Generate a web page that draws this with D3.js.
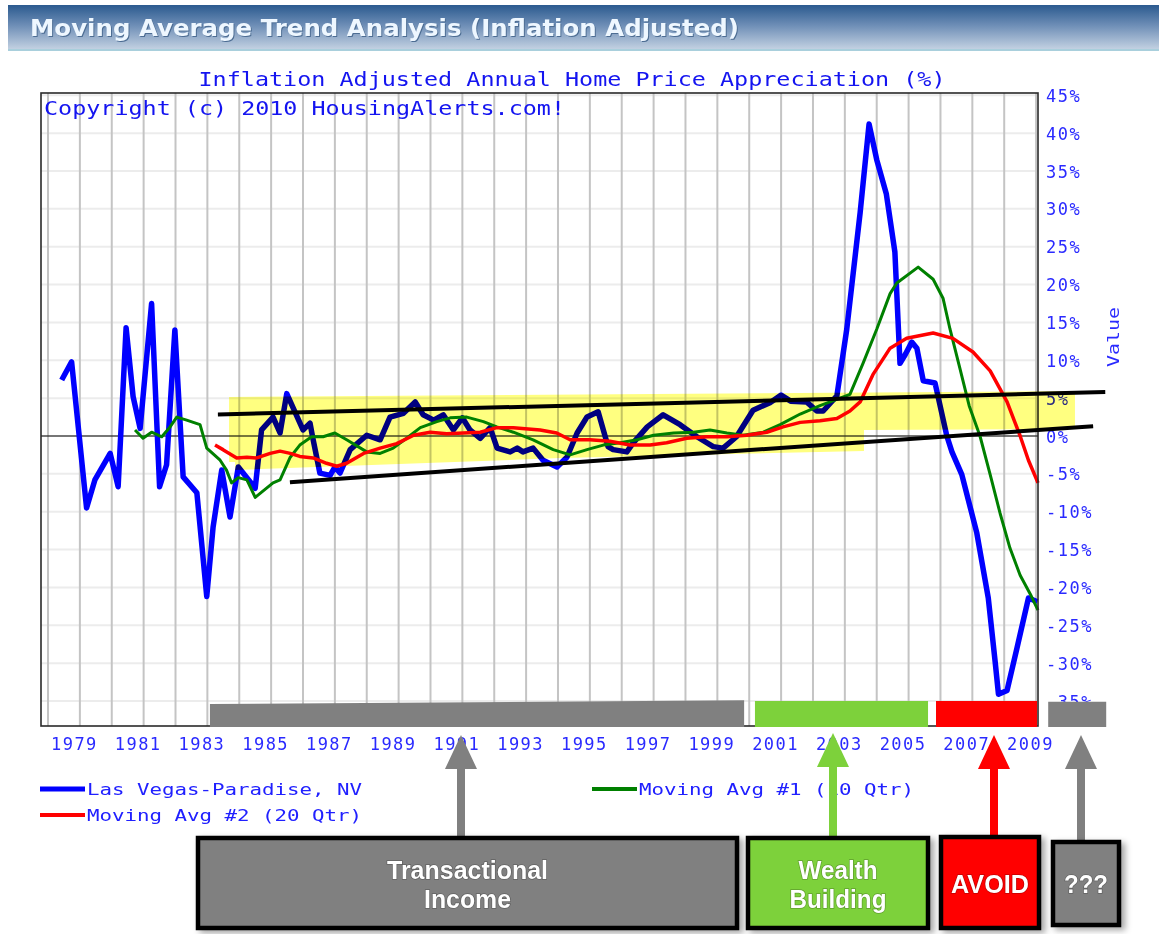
<!DOCTYPE html>
<html lang="en">
<head>
<meta charset="utf-8">
<title>Moving Average Trend Analysis</title>
<script src="https://cdn.jsdelivr.net/npm/d3@7"></script>
<style>
  body { margin: 0; background: #fff; }
  .mono { font-family: "DejaVu Sans Mono", monospace; }
  .box-text { font-family: "Liberation Sans Narrow", "Arial Narrow", "Liberation Sans", Arial, sans-serif; font-weight: bold; fill: #fff; }
</style>
</head>
<body>
<script>
// ---- data (decimal year, % appreciation) ----
var lvYears = [1978.43,1978.74,1979.21,1979.47,1979.95,1980.2,1980.45,1980.67,1980.89,1981.25,1981.5,1981.72,1981.98,1982.24,1982.67,1982.98,1983.18,1983.45,1983.71,1983.97,1984.5,1984.7,1985.06,1985.28,1985.49,1986.0,1986.22,1986.3,1986.53,1986.85,1987.0,1987.16,1987.48,1988.0,1988.42,1988.73,1989.15,1989.52,1989.77,1990.1,1990.4,1990.72,1991.0,1991.24,1991.56,1991.87,1992.09,1992.5,1992.72,1992.9,1993.22,1993.53,1993.97,1994.28,1994.6,1994.91,1995.26,1995.57,1995.73,1996.16,1996.36,1996.8,1997.3,1997.83,1998.36,1998.87,1999.18,1999.6,2000.12,2000.65,2001.0,2001.3,2001.8,2002.12,2002.32,2002.75,2003.06,2003.48,2003.76,2004.0,2004.3,2004.57,2004.73,2004.9,2005.1,2005.26,2005.46,2005.83,2006.2,2006.36,2006.67,2007.14,2007.5,2007.72,2007.82,2008.09,2008.4,2008.76,2009.04];
var lvValues = [7.4,9.8,-9.5,-5.8,-2.3,-6.7,14.3,5.2,1.0,17.5,-6.7,-3.8,14.0,-5.4,-7.5,-21.2,-12,-4.5,-10.7,-4.1,-6.9,0.8,2.5,0.4,5.6,0.8,1.7,-0.1,-4.9,-5.2,-4.1,-4.9,-1.8,0.1,-0.5,2.5,3.0,4.5,2.8,2.1,2.8,0.8,2.4,0.8,-0.3,1.1,-1.6,-2.1,-1.6,-2.1,-1.6,-3.2,-4.1,-2.8,0.4,2.5,3.2,-1.4,-1.8,-2.1,-0.9,1.2,2.8,1.5,-0.1,-1.4,-1.6,-0.1,3.4,4.4,5.4,4.6,4.5,3.3,3.3,5.3,14.1,29.5,41.2,36.5,32,24.3,9.6,10.8,12.4,11.6,7.3,7.0,0,-2.1,-5.1,-12.8,-21.4,-30,-34.1,-33.6,-28,-21.4,-21.9];

var ma10Years = [1980.73,1980.98,1981.25,1981.57,1981.83,1982.04,1982.35,1982.77,1982.98,1983.4,1983.6,1983.76,1983.97,1984.24,1984.5,1985.06,1985.28,1985.6,1985.9,1986.27,1986.63,1987.0,1987.37,1988.0,1988.42,1988.83,1989.25,1989.68,1990.2,1990.62,1991.14,1991.66,1992.08,1992.6,1993.22,1993.85,1994.38,1994.91,1995.42,1995.95,1996.48,1997.0,1997.63,1998.25,1998.77,1999.3,1999.81,2000.44,2000.97,2001.6,2002.22,2002.85,2003.16,2003.57,2004.0,2004.42,2004.63,2005.3,2005.77,2006.08,2006.3,2006.6,2006.9,2007.24,2007.56,2007.87,2008.18,2008.5,2008.82,2009.06];
var ma10Values = [0.8,-0.3,0.5,-0.1,1.2,2.5,2.1,1.5,-1.6,-3.2,-4.5,-6.2,-5.5,-5.8,-8.1,-6.2,-5.8,-2.8,-1.2,-0.1,-0.1,0.4,-0.5,-2.1,-2.3,-1.6,-0.3,1.1,1.9,2.4,2.5,1.9,1.2,0.5,-0.5,-1.8,-2.5,-1.8,-1.2,-0.9,-0.5,0.1,0.4,0.5,0.8,0.4,0.1,0.5,1.5,2.9,4.0,5.0,5.5,9.6,14.1,18.8,20.2,22.3,20.7,18.2,14.1,9.1,4.0,0,-5.1,-10.2,-14.8,-18.4,-20.9,-23];

var ma20Years = [1983.24,1983.49,1983.92,1984.24,1984.55,1984.97,1985.28,1985.6,1985.9,1986.32,1986.74,1987.06,1987.37,1987.9,1988.42,1988.94,1989.47,1989.99,1990.51,1991.03,1991.56,1992.08,1992.6,1993.44,1993.96,1994.38,1995.0,1995.63,1996.26,1996.89,1997.41,1998.04,1998.67,1999.3,1999.92,2000.55,2001.06,2001.6,2002.22,2002.75,2003.16,2003.48,2003.88,2004.42,2004.94,2005.77,2006.39,2007.02,2007.56,2008.09,2008.5,2008.76,2009.06];
var ma20Values = [-1.2,-1.8,-2.9,-2.8,-2.9,-2.3,-2.0,-2.3,-2.7,-2.9,-3.6,-4.0,-3.6,-2.3,-1.6,-1.0,0.1,0.5,0.3,0.4,0.5,1.1,1.1,0.8,0.4,-0.5,-0.5,-0.7,-1.2,-1.2,-0.9,-0.3,-0.1,-0.1,0.1,0.5,1.2,1.8,2.0,2.3,3.3,4.5,8.1,11.6,12.9,13.6,12.9,11.1,8.6,4.5,0,-3.2,-6.2];

var gridYears = [1978,1979,1980,1981,1982,1983,1984,1985,1986,1987,1988,1989,1990,1991,1992,1993,1994,1995,1996,1997,1998,1999,2000,2001,2002,2003,2004,2005,2006,2007,2008,2009];
var labelYears = [1979,1981,1983,1985,1987,1989,1991,1993,1995,1997,1999,2001,2003,2005,2007,2009];
var yTicks = [-35,-30,-25,-20,-15,-10,-5,0,5,10,15,20,25,30,35,40,45];

// hand drawn trend channel (year, value)
var upperTrend = [[1983.33, 2.84], [2011.17, 5.8]];
var lowerTrend = [[1985.59, -6.1], [2010.79, 1.3]];
var highlight = [[1983.68,5.15],[2010.22,5.94],[2010.22,0.92],[2003.6,0.79],[2003.6,-1.98],[1994.07,-2.91],[1983.87,-4.49],[1983.87,-3.43],[1983.68,-3.43]];

// phase bars under the chart (start year, end year, top value at start and end)
var phases = [
  {from: 1983.08, to: 1999.84, top0: -35.4, top1: -34.9, color: "#808080"},
  {from: 2000.18, to: 2005.61, top0: -35.0, top1: -35.0, color: "#7dd13b"},
  {from: 2005.86, to: 2009.03, top0: -35.0, top1: -35.0, color: "#ff0000"},
  {from: 2009.38, to: 2011.2, top0: -35.1, top1: -35.1, color: "#808080"}
];

var W = 1159, H = 934;
var svg = d3.select("body").append("svg")
  .attr("width", W).attr("height", H)
  .style("background", "#fff");

var defs = svg.append("defs");
var grad = defs.append("linearGradient").attr("id", "hdr").attr("x1", 0).attr("y1", 0).attr("x2", 0).attr("y2", 1);
grad.append("stop").attr("offset", "0%").attr("stop-color", "#2b5a8f");
grad.append("stop").attr("offset", "45%").attr("stop-color", "#6f8fb7");
grad.append("stop").attr("offset", "100%").attr("stop-color", "#c9d6e5");
var shadow = defs.append("filter").attr("id", "shadow").attr("x", "-10%").attr("y", "-10%").attr("width", "130%").attr("height", "130%");
shadow.append("feDropShadow").attr("dx", 4).attr("dy", 3).attr("stdDeviation", 3).attr("flood-color", "#000").attr("flood-opacity", 0.35);

// header bar
svg.append("rect").attr("x", 8).attr("y", 5).attr("width", W - 8).attr("height", 46).attr("fill", "url(#hdr)");
svg.append("rect").attr("x", 8).attr("y", 49).attr("width", W - 8).attr("height", 2).attr("fill", "#a9cfdc");
svg.append("text").attr("x", 31).attr("y", 37)
  .attr("font-family", "DejaVu Sans, Verdana, sans-serif").attr("font-weight", "bold").attr("font-size", 23)
  .attr("textLength", 709).attr("lengthAdjust", "spacingAndGlyphs")
  .attr("fill", "#4d6d93").text("Moving Average Trend Analysis (Inflation Adjusted)");
svg.append("text").attr("x", 30).attr("y", 36)
  .attr("font-family", "DejaVu Sans, Verdana, sans-serif").attr("font-weight", "bold").attr("font-size", 23)
  .attr("textLength", 709).attr("lengthAdjust", "spacingAndGlyphs")
  .attr("fill", "#eef7ff").text("Moving Average Trend Analysis (Inflation Adjusted)");

var xScale = d3.scaleLinear().domain([1977.78, 2009.06]).range([41, 1038]);
var yScale = d3.scaleLinear().domain([-38.3, 45.3]).range([726, 93]);

// gridlines
svg.append("g").selectAll("line").data(yTicks).enter().append("line")
  .attr("x1", 41).attr("x2", 1038)
  .attr("y1", function(d){ return yScale(d); }).attr("y2", function(d){ return yScale(d); })
  .attr("stroke", "#ececec").attr("stroke-width", 2);
svg.append("g").selectAll("line").data(gridYears).enter().append("line")
  .attr("x1", function(d){ return xScale(d); }).attr("x2", function(d){ return xScale(d); })
  .attr("y1", 93).attr("y2", 726)
  .attr("stroke", "#c4c4c4").attr("stroke-width", 2);
svg.append("line").attr("x1", 41).attr("x2", 1038).attr("y1", yScale(0)).attr("y2", yScale(0))
  .attr("stroke", "#000").attr("stroke-width", 1.2);

// series
var line = d3.line().x(function(d){ return xScale(d[0]); }).y(function(d){ return yScale(d[1]); });
function pairs(xs, ys){ return xs.map(function(x, i){ return [x, ys[i]]; }); }
svg.append("path").datum(pairs(lvYears, lvValues)).attr("d", line)
  .attr("fill", "none").attr("stroke", "#0000ff").attr("stroke-width", 5.5).attr("stroke-linejoin", "round");
svg.append("path").datum(pairs(ma10Years, ma10Values)).attr("d", line)
  .attr("fill", "none").attr("stroke", "#008000").attr("stroke-width", 3).attr("stroke-linejoin", "round");
svg.append("path").datum(pairs(ma20Years, ma20Values)).attr("d", line)
  .attr("fill", "none").attr("stroke", "#ff0000").attr("stroke-width", 3.5).attr("stroke-linejoin", "round");

// border
svg.append("rect").attr("x", 41).attr("y", 93).attr("width", 997).attr("height", 633)
  .attr("fill", "none").attr("stroke", "#2a2a2a").attr("stroke-width", 1.6);

// titles
svg.append("text").attr("class", "mono").attr("x", 572).attr("y", 86).attr("text-anchor", "middle")
  .attr("font-size", 19).attr("fill", "#1414f0")
  .attr("textLength", 747).attr("lengthAdjust", "spacingAndGlyphs")
  .text("Inflation Adjusted Annual Home Price Appreciation (%)");
svg.append("text").attr("class", "mono").attr("x", 44).attr("y", 115)
  .attr("font-size", 19).attr("fill", "#1414f0")
  .attr("textLength", 521).attr("lengthAdjust", "spacingAndGlyphs")
  .text("Copyright (c) 2010 HousingAlerts.com!");

// axes
var yAxis = d3.axisRight(yScale).tickValues(yTicks).tickSize(0).tickPadding(8)
  .tickFormat(function(d){ return d + "%"; });
var gy = svg.append("g").attr("transform", "translate(1038,0)").call(yAxis);
gy.select(".domain").remove();
gy.selectAll("text").attr("class", "mono").attr("font-size", 17).attr("fill", "#2a2aff")
  .attr("letter-spacing", 1.5).attr("dy", "0.36em");

var xAxis = d3.axisBottom(xScale).tickValues(labelYears).tickSize(0).tickPadding(12)
  .tickFormat(function(d){ return String(d); });
var gx = svg.append("g").attr("transform", "translate(0,726)").call(xAxis);
gx.select(".domain").remove();
gx.selectAll("text").attr("class", "mono").attr("font-size", 17).attr("fill", "#2a2aff")
  .attr("letter-spacing", 1.5).attr("dx", -6);

svg.append("text").attr("class", "mono").attr("transform", "translate(1119,337) rotate(-90)")
  .attr("text-anchor", "middle").attr("font-size", 16).attr("fill", "#2a2aff")
  .attr("textLength", 60).attr("lengthAdjust", "spacingAndGlyphs").text("Value");

// highlighter overlay (multiply, like the marker in the source)
svg.append("path")
  .attr("d", "M" + highlight.map(function(p){ return xScale(p[0]) + "," + yScale(p[1]); }).join("L") + "Z")
  .attr("fill", "#ffff80").style("mix-blend-mode", "multiply");

// trend channel
[upperTrend, lowerTrend].forEach(function(t){
  svg.append("path").datum(t).attr("d", line)
    .attr("stroke", "#000").attr("stroke-width", 4).attr("fill", "none");
});

// phase bars
svg.append("g").selectAll("path").data(phases).enter().append("path")
  .attr("d", function(d){
    var x0 = xScale(d.from), x1 = xScale(d.to);
    return "M" + x0 + "," + yScale(d.top0) + "L" + x1 + "," + yScale(d.top1) +
      "L" + x1 + ",727L" + x0 + ",727Z";
  })
  .attr("fill", function(d){ return d.color; });

// legend
var legend = [
  {label: "Las Vegas-Paradise, NV", color: "#0000ff", w: 5, x: 40, y: 789},
  {label: "Moving Avg #2 (20 Qtr)", color: "#ff0000", w: 4, x: 40, y: 815},
  {label: "Moving Avg #1 (10 Qtr)", color: "#008000", w: 4, x: 592, y: 789}
];
var lg = svg.append("g").selectAll("g").data(legend).enter().append("g");
lg.append("line").attr("x1", function(d){ return d.x; }).attr("x2", function(d){ return d.x + 45; })
  .attr("y1", function(d){ return d.y; }).attr("y2", function(d){ return d.y; })
  .attr("stroke", function(d){ return d.color; }).attr("stroke-width", function(d){ return d.w; });
lg.append("text").attr("class", "mono").attr("x", function(d){ return d.x + 47; }).attr("y", function(d){ return d.y + 6; })
  .attr("font-size", 16).attr("fill", "#2020ff")
  .attr("textLength", 275).attr("lengthAdjust", "spacingAndGlyphs")
  .text(function(d){ return d.label; });

// arrows and boxes
var arrows = [
  {x: 461, tip: 735, end: 836, color: "#808080"},
  {x: 833, tip: 733, end: 836, color: "#7dd13b"},
  {x: 994, tip: 735, end: 836, color: "#ff0000"},
  {x: 1081, tip: 735, end: 842, color: "#808080"}
];
svg.append("g").selectAll("path").data(arrows).enter().append("path")
  .attr("d", function(d){
    var b = d.tip + 34;
    return "M" + d.x + "," + d.tip + "L" + (d.x + 16) + "," + b + "L" + (d.x + 4) + "," + b +
      "L" + (d.x + 4) + "," + d.end + "L" + (d.x - 4) + "," + d.end + "L" + (d.x - 4) + "," + b +
      "L" + (d.x - 16) + "," + b + "Z";
  })
  .attr("fill", function(d){ return d.color; });

var boxes = [
  {x: 198, y: 838, w: 539, h: 90, fill: "#808080", lines: ["Transactional", "Income"], widths: [161, 87]},
  {x: 748, y: 838, w: 180, h: 90, fill: "#7dd13b", lines: ["Wealth", "Building"], widths: [79, 97]},
  {x: 941, y: 837, w: 98, h: 91, fill: "#ff0000", lines: ["AVOID"], widths: [78]},
  {x: 1053, y: 842, w: 66, h: 83, fill: "#808080", lines: ["???"], widths: [44]}
];
var bg = svg.append("g").selectAll("g").data(boxes).enter().append("g");
bg.append("rect").attr("x", function(d){ return d.x; }).attr("y", function(d){ return d.y; })
  .attr("width", function(d){ return d.w; }).attr("height", function(d){ return d.h; })
  .attr("fill", function(d){ return d.fill; }).attr("stroke", "#000").attr("stroke-width", 4.5)
  .attr("filter", "url(#shadow)");
bg.each(function(d){
  var g = d3.select(this);
  var cx = d.x + d.w / 2, cy = 884;
  var n = d.lines.length;
  d.lines.forEach(function(t, i){
    var base = cy + 9 + (i - (n - 1) / 2) * 29;
    g.append("text").attr("class", "box-text").attr("x", cx).attr("y", base)
      .attr("text-anchor", "middle").attr("font-size", 25)
      .attr("textLength", d.widths[i]).attr("lengthAdjust", "spacingAndGlyphs")
      .style("paint-order", "stroke").attr("stroke", "rgba(0,0,0,0.25)").attr("stroke-width", 1.5)
      .text(t);
  });
});
</script>
</body>
</html>
